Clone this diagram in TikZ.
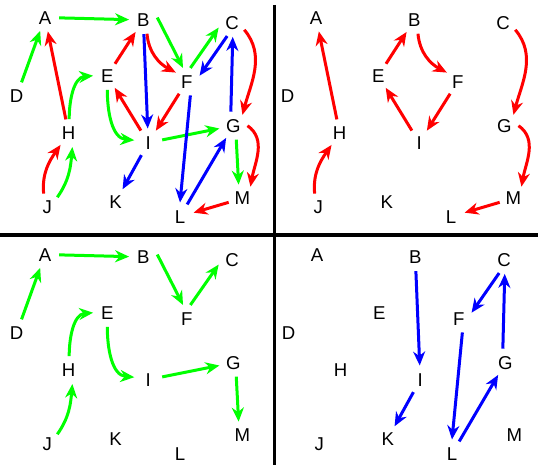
\documentclass[tikz,border=0pt]{standalone}
\usepackage{fontspec}
\setmainfont{Liberation Sans}
\usetikzlibrary{arrows.meta}
\definecolor{cgreen}{RGB}{0,255,0}
\definecolor{cred}{RGB}{255,0,0}
\definecolor{cblue}{RGB}{0,0,255}
\tikzset{
  lbl/.style={circle, minimum size=28pt, inner sep=0pt, text height=13.3pt, text depth=0pt,
    font=\fontsize{18.6}{18.6}\selectfont},
  edgebase/.style={line width=3pt, -{Stealth[length=14pt,width=12pt,inset=4.5pt]}},
  gedge/.style={edgebase, color=cgreen},
  redge/.style={edgebase, color=cred},
  bedge/.style={edgebase, color=cblue},
  divider/.style={line width=3.2pt, black}
}
\newcommand{\placenodes}[1]{%
  \node[lbl] (#1A) at (45,17.5) {A};
  \node[lbl] (#1B) at (143.3,20) {B};
  \node[lbl] (#1C) at (232,22.7) {C};
  \node[lbl] (#1D) at (16.7,95.7) {D};
  \node[lbl] (#1E) at (107.3,75.7) {E};
  \node[lbl] (#1F) at (186.7,81.7) {F};
  \node[lbl] (#1G) at (233.3,125.7) {G};
  \node[lbl] (#1H) at (68.7,133.3) {H};
  \node[lbl] (#1I) at (148.3,142.7) {I};
  \node[lbl] (#1J) at (47.3,207.3) {J};
  \node[lbl] (#1K) at (115.7,201.7) {K};
  \node[lbl] (#1L) at (180,216.7) {L};
  \node[lbl] (#1M) at (242.3,198.3) {M};
}
\newcommand{\greenedges}[1]{%
  \draw[gedge] (#1A) -- (#1B);
  \draw[gedge] (#1D) -- (#1A);
  \draw[gedge] (#1H.88) to[out=90,in=185] (#1E.180);
  \draw[gedge] (#1J.45) to[out=55,in=-95] (#1H.-75);
  \draw[gedge] (#1E.-90) to[out=-90,in=175] (#1I.170);
  \draw[gedge] (#1I) -- (#1G);
  \draw[gedge] (#1B.10) -- (#1F.105);
  \draw[gedge] (#1F.75) -- (#1C.200);
  \draw[gedge] (#1G.-78) -- (#1M.105);
}
\newcommand{\rededges}[1]{%
  \draw[redge] (#1H) -- (#1A);
  \draw[redge] (#1J.105) to[out=95,in=235] (#1H.235);
  \draw[redge] (#1E) -- (#1B);
  \draw[redge] (#1B.-75) to[out=-85,in=152] (#1F.140);
  \draw[redge] (#1F) -- (#1I);
  \draw[redge] (#1I) -- (#1E);
  \draw[redge] (#1C.-30) to[out=-50,in=75] (#1G.50);
  \draw[redge] (#1G.0) to[out=-35,in=80] (#1M.55);
  \draw[redge] (#1M) -- (#1L);
}
\newcommand{\blueedges}[1]{%
  \draw[bedge] (#1B) -- (#1I);
  \draw[bedge] (#1C.-110) -- (#1F.25);
  \draw[bedge] (#1F.-75) -- (#1L.90);
  \draw[bedge] (#1G.100) -- (#1C.-87);
  \draw[bedge] (#1L) -- (#1G);
  \draw[bedge] (#1I) -- (#1K);
}
\begin{document}
\begin{tikzpicture}[x=1pt,y=-1pt]
  \useasboundingbox (0,0) rectangle (538,468);
  \fill[white] (0,0) rectangle (538,468);
  \begin{scope}\placenodes{a}\end{scope}
  \begin{scope}[shift={(271,0)}]\placenodes{b}\end{scope}
  \begin{scope}[shift={(0,237)}]\placenodes{c}\end{scope}
  \begin{scope}[shift={(272,237)}]\placenodes{d}\end{scope}
  \greenedges{a}
  \rededges{a}
  \blueedges{a}
  \rededges{b}
  \greenedges{c}
  \blueedges{d}
  \draw[divider] (274.2,5) -- (274.2,465);
  \draw[divider] (0,235) -- (538,235);
\end{tikzpicture}
\end{document}
